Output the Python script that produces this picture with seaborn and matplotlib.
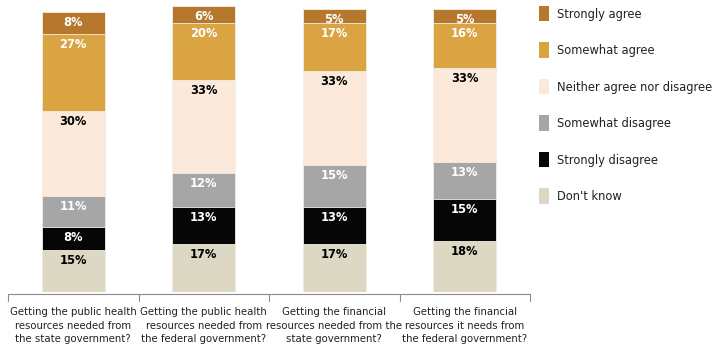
import numpy as np
import pandas as pd
import seaborn as sns
import matplotlib
matplotlib.use("Agg")
import matplotlib.pyplot as plt
from matplotlib.patches import Patch
from matplotlib import font_manager

# Survey questions (one stacked bar each)
questions = [
    "Getting the public health\nresources needed from\nthe state government?",
    "Getting the public health\nresources needed from\nthe federal government?",
    "Getting the financial\nresources needed from the\nstate government?",
    "Getting the financial\nresources it needs from\nthe federal government?",
]

# Response shares (%), listed top of bar to bottom
responses = ["Strongly agree", "Somewhat agree", "Neither agree nor disagree",
             "Somewhat disagree", "Strongly disagree", "Don't know"]
strongly_agree = [8, 6, 5, 5]
somewhat_agree = [27, 20, 17, 16]
neither = [30, 33, 33, 33]
somewhat_disagree = [11, 12, 15, 13]
strongly_disagree = [8, 13, 13, 15]
dont_know = [15, 17, 17, 18]

colors = ["#B5782C", "#D9A441", "#FBEADB", "#A6A6A6", "#060606", "#DDD8C4"]
label_colors = ["white", "white", "black", "white", "white", "black"]

sns.set_theme(style="white")
names = [f.name for f in font_manager.fontManager.ttflist]
family = ["Liberation Sans Narrow", "DejaVu Sans"] if "Liberation Sans Narrow" in names else ["DejaVu Sans"]
plt.rcParams["font.family"] = family
stretch = "normal" if family[0] == "Liberation Sans Narrow" else "condensed"

series = [strongly_agree, somewhat_agree, neither, somewhat_disagree,
          strongly_disagree, dont_know]
values = np.array(series, dtype=float)  # rows: responses (top to bottom)

W, H = 716, 352
fig = plt.figure(figsize=(W / 100, H / 100), dpi=100)
# axes: x from px 8 to 530, baseline at px 292
ax = fig.add_axes([8 / W, (H - 292) / H, 522 / W, 292 / H])

# cumulative tops, drawn from the tallest layer down so each covers the previous
short = [f"Q{i}" for i in range(len(questions))]
for k in range(len(responses)):
    tops = values[k:].sum(axis=0)
    df = pd.DataFrame({"q": short, "v": tops})
    sns.barplot(data=df, x="q", y="v", color=colors[k], saturation=1,
                width=0.48, edgecolor="#F4EEE6", linewidth=0.6, ax=ax)

ax.set_xlim(-0.5, len(questions) - 0.5)
ax.set_ylim(0, 292 / 2.83)

# value labels near the top of each segment
for k in range(len(responses)):
    tops = values[k:].sum(axis=0)
    for i in range(len(questions)):
        ax.text(i, tops[i] - 3.7, f"{int(values[k, i])}%", ha="center", va="center",
                fontsize=9.2, fontweight="bold", color=label_colors[k],
                fontstretch=stretch)

ax.set_xticks(range(len(questions)))
ax.set_xticklabels(questions, fontsize=8.1, color="#222222", linespacing=1.42,
                   fontstretch=stretch)
ax.tick_params(axis="x", length=0, pad=11)
ax.set_yticks([])
ax.set_xlabel("")
ax.set_ylabel("")
for s in ax.spines.values():
    s.set_visible(False)

# bracket separating the question labels
tr = ax.get_xaxis_transform()
y0, y1 = -2 / 292, -9 / 292
ax.plot([-0.5, len(questions) - 0.5], [y0, y0], color="#8C8C8C", lw=0.8,
        transform=tr, clip_on=False)
for xb in np.arange(-0.5, len(questions), 1.0):
    ax.plot([xb, xb], [y0, y1], color="#8C8C8C", lw=0.8, transform=tr, clip_on=False)

# legend
handles = [Patch(facecolor=c, edgecolor="none") for c in colors]
fs = 9.2
fpx = fs / 72 * 100
fig.legend(handles, responses, loc="upper left",
           bbox_to_anchor=(539 / W, 1 - 6 / H), frameon=False,
           fontsize=fs, handlelength=10 / fpx, handleheight=19 / fpx,
           labelspacing=(36.4 - 19) / fpx + 0.28, handletextpad=8 / fpx,
           borderpad=0, borderaxespad=0,
           prop={"size": fs, "stretch": stretch, "family": family})
for t in fig.legends[0].get_texts():
    t.set_color("#222222")

fig.savefig("out.png", dpi=100)
